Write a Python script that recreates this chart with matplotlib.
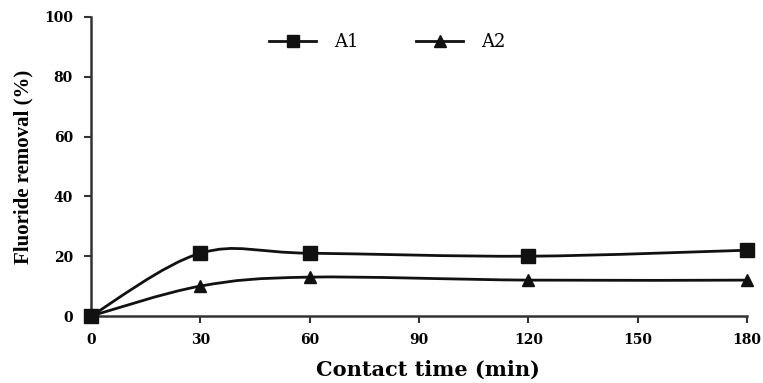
import numpy as np
import matplotlib.pyplot as plt
from matplotlib.path import Path
from matplotlib.patches import PathPatch

# contact time (min) and fluoride removal (%)
time_min = [0, 30, 60, 120, 180]
removal_a1 = [0, 21, 21, 20, 22]
removal_a2 = [0, 10, 13, 12, 12]
x_ticks = [0, 30, 60, 90, 120, 150, 180]
y_ticks = [0, 20, 40, 60, 80, 100]

plt.rcParams['font.family'] = ['DejaVu Serif', 'Liberation Serif']


def smooth_path(ax, xs, ys):
    '''Spreadsheet-style smoothed line: cubic Bezier through each point.'''
    # work in display units so the tangents look right on screen
    pts = ax.transData.transform(np.column_stack([xs, ys]))
    n = len(pts)
    verts = [pts[0]]
    codes = [Path.MOVETO]
    for i in range(n - 1):
        p_prev = pts[i - 1] if i > 0 else pts[i]
        p_next2 = pts[i + 2] if i + 2 < n else pts[i + 1]
        c1 = pts[i] + (pts[i + 1] - p_prev) / 6.0
        c2 = pts[i + 1] - (p_next2 - pts[i]) / 6.0
        verts += [c1, c2, pts[i + 1]]
        codes += [Path.CURVE4] * 3
    return Path(ax.transData.inverted().transform(np.array(verts)), codes)


fig = plt.figure(figsize=(7.63, 3.83), dpi=100)
ax = fig.add_axes([91 / 763, 67 / 383, 656 / 763, 299 / 383])
ax.set_xlim(0, 180)
ax.set_ylim(0, 100)

for ys, mk, lbl in [(removal_a1, 's', 'A1'), (removal_a2, '^', 'A2')]:
    ax.add_patch(PathPatch(smooth_path(ax, time_min, ys), fill=False,
                           lw=2.0, ec='#111111', clip_on=False))
    ax.plot([], [], '-', color='#111111', lw=2.0, marker=mk, ms=8,
            label=lbl)
    ax.plot(time_min, ys, ls='none', marker=mk, ms=10 if mk == 's' else 9,
            color='#111111', clip_on=False, zorder=5)

for side in ['top', 'right']:
    ax.spines[side].set_visible(False)
for side in ['left', 'bottom']:
    ax.spines[side].set_linewidth(1.8)
    ax.spines[side].set_color('#333333')

ax.set_xticks(x_ticks)
ax.set_yticks(y_ticks)
ax.tick_params(direction='out', length=5, width=1.5, color='#333333',
               labelsize=10)
ax.tick_params(axis='y', pad=8)
ax.tick_params(axis='x', pad=7)
for t in ax.get_xticklabels() + ax.get_yticklabels():
    t.set_fontweight('bold')

ax.set_xlabel('Contact time (min)', fontsize=15, fontweight='bold')
ax.xaxis.set_label_coords(0.514, -0.145)
ax.set_ylabel('Fluoride removal (%)', fontsize=15, fontweight='bold',
              family='Liberation Serif')
ax.yaxis.set_label_coords(-0.088, 0.5)

ax.legend(loc='upper center', bbox_to_anchor=(0.452, 1.0), ncol=2,
          frameon=False, fontsize=13, handlelength=2.6, columnspacing=3.2,
          handletextpad=1.0)

fig.savefig('out.png', dpi=100)
